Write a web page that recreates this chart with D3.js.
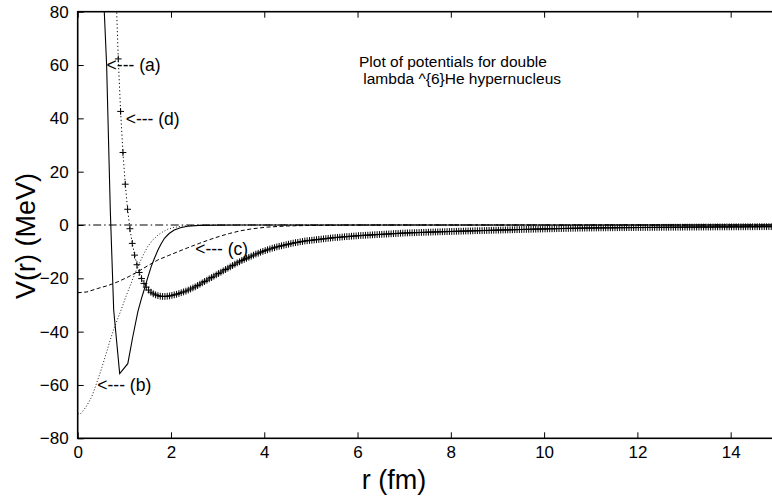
<!DOCTYPE html>
<meta charset="utf-8">
<style>
body { margin: 0; background: #fff; }
svg { display: block; font-family: "Liberation Sans", Arial, Helvetica, sans-serif; }
.tick text { font-size: 17px; fill: #000; }
.tick line { stroke: #000; stroke-width: 1; }
.note { font-size: 17.5px; }
.title { font-size: 15.5px; }
.axislabel { font-size: 27px; }
</style>
<body>
<div id="chart"></div>
<script src="https://d3js.org/d3.v7.min.js"></script>
<script>
// curve (a) solid
var rA = [0.55, 0.57, 0.62, 0.70, 0.772, 0.9, 1.074, 1.18, 1.29, 1.36, 1.43, 1.5, 1.575, 1.65, 1.72, 1.79, 1.86, 1.96, 2.07, 2.2, 2.36, 2.6, 3.0, 3.5, 15];
var vA = [90, 80, 60, 5, -32, -55.7, -52, -42, -32.5, -28, -24, -19.8, -15.6, -12.3, -9.4, -7, -5, -3.2, -1.9, -1, -0.45, -0.15, -0.04, 0, 0];
// curve (b) fine dots
var rB = [0, 0.07, 0.18, 0.3, 0.39, 0.5, 0.61, 0.7, 0.79, 0.93, 1.04, 1.145, 1.23, 1.32, 1.41, 1.5, 1.61, 1.72, 1.83, 1.93, 2.07, 2.22, 2.4, 2.7, 3.2, 15];
var vB = [-70.8, -70.7, -68.2, -64.5, -60.1, -54.5, -48.2, -43, -38.2, -31.9, -26.5, -21.9, -18, -14.4, -11.1, -8.1, -5.6, -3.8, -2.5, -1.6, -0.9, -0.45, -0.2, -0.06, 0, 0];
// curve (c) dashed
var rC = [0, 0.2, 0.43, 0.65, 0.86, 1.08, 1.29, 1.5, 1.72, 1.94, 2.15, 2.35, 2.5, 2.62, 2.86, 3.05, 3.25, 3.48, 3.75, 4.05, 4.5, 5, 6, 7, 15];
var vC = [-25.4, -25.1, -23.8, -22.7, -21.3, -19.5, -17.5, -15.3, -13.1, -11.5, -10, -8.6, -7.6, -6.8, -5.3, -4.2, -3.2, -2.2, -1.4, -0.8, -0.35, -0.15, -0.03, 0, 0];
// curve (d) points, every 0.05 fm from 0.82
var dStart = 0.82, dStep = 0.05;
var vD = [88, 62.3, 42.6, 27.2,
  15.3, 5.9, -1.4, -6.9, -11.3, -14.9, -17.8, -20.1, -21.9, -23.3, -24.4, -25.2, -25.8, -26.2, -26.5, -26.7, -26.8, -26.8, -26.7, -26.6,
  -26.4, -26.2, -26.0, -25.7, -25.4, -25.1, -24.8, -24.4, -24.0, -23.6, -23.2, -22.7, -22.2, -21.7, -21.2, -20.7, -20.2, -19.7, -19.2, -18.7,
  -18.2, -17.7, -17.2, -16.7, -16.2, -15.7, -15.2, -14.7, -14.2, -13.8, -13.3, -12.9, -12.5, -12.1, -11.7, -11.3, -10.9, -10.6, -10.2, -9.9,
  -9.6, -9.3, -9.0, -8.7, -8.5, -8.2, -8.0, -7.8, -7.6, -7.4, -7.2, -7.0, -6.8, -6.6, -6.5, -6.3, -6.2, -6.0, -5.9, -5.8,
  -5.7, -5.6, -5.5, -5.4, -5.3, -5.2, -5.1, -5.0, -4.9, -4.8, -4.7, -4.65, -4.6, -4.5, -4.4, -4.35, -4.3, -4.2, -4.15, -4.1,
  -4.0, -3.95, -3.9, -3.85, -3.8, -3.75, -3.7, -3.65, -3.6, -3.55, -3.5, -3.45, -3.4, -3.35, -3.3, -3.25, -3.2, -3.15, -3.1, -3.05,
  -3.0, -2.97, -2.94, -2.91, -2.88, -2.85, -2.82, -2.79, -2.76, -2.73, -2.7, -2.67, -2.64, -2.61, -2.58, -2.55, -2.52, -2.5, -2.47, -2.45,
  -2.42, -2.39, -2.37, -2.34, -2.32, -2.29, -2.27, -2.24, -2.22, -2.19, -2.17, -2.14, -2.12, -2.09, -2.07, -2.04, -2.02, -2.0, -1.97, -1.95,
  -1.92, -1.9, -1.87, -1.85, -1.83, -1.8, -1.78, -1.76, -1.73, -1.71, -1.69, -1.66, -1.64, -1.62, -1.6, -1.57, -1.55, -1.53, -1.51, -1.49,
  -1.47, -1.45, -1.43, -1.41, -1.39, -1.37, -1.35, -1.33, -1.31, -1.29, -1.27, -1.25, -1.24, -1.22, -1.2, -1.19, -1.17, -1.16, -1.14, -1.13,
  -1.12, -1.11, -1.1, -1.09, -1.08, -1.07, -1.06, -1.05, -1.05, -1.04, -1.03, -1.02, -1.01, -1.0, -1.0, -0.99, -0.98, -0.97, -0.97, -0.96,
  -0.95, -0.95, -0.94, -0.93, -0.92, -0.92, -0.91, -0.9, -0.9, -0.89, -0.88, -0.87, -0.87, -0.86, -0.85, -0.85, -0.84, -0.83, -0.83, -0.82,
  -0.81, -0.81, -0.8, -0.8, -0.79, -0.79, -0.78, -0.77, -0.77, -0.76, -0.76, -0.75, -0.75, -0.74, -0.73, -0.73, -0.72, -0.72, -0.71, -0.71,
  -0.7, -0.7, -0.69, -0.69, -0.68, -0.68, -0.67, -0.67, -0.66, -0.66, -0.65, -0.65, -0.64, -0.64, -0.63, -0.63, -0.62, -0.62, -0.61, -0.61];
var rD = vD.map(function(v, i) { return +(dStart + i * dStep).toFixed(2); });
// zero line
var rZ = [0, 15];
var vZ = [0, 0];

var xTicks = [0, 2, 4, 6, 8, 10, 12, 14];
var yTicks = [-80, -60, -40, -20, 0, 20, 40, 60, 80];

var notes = [
  {r: 0.62, v: 60, text: "<--- (a)"},
  {r: 1.03, v: 40, text: "<--- (d)"},
  {r: 0.42, v: -60, text: "<--- (b)"},
  {r: 2.52, v: -9, text: "<--- (c)"}
];
var titleLines = ["Plot of potentials for double", " lambda ^{6}He hypernucleus"];

var margin = {top: 11.7, left: 77.7},
    width = 699.6,
    height = 426.6;

var svg = d3.select("#chart").append("svg").attr("width", 772).attr("height", 497);
var g = svg.append("g").attr("transform", "translate(" + margin.left + "," + margin.top + ")");

var x = d3.scaleLinear().domain([0, 15]).range([0, width]);
var y = d3.scaleLinear().domain([-80, 80]).range([height, 0]);

g.append("clipPath").attr("id", "clip")
  .append("rect").attr("width", width).attr("height", height);

var plot = g.append("g").attr("clip-path", "url(#clip)");

function pairs(rs, vs) { return rs.map(function(r, i) { return [r, vs[i]]; }); }
var line = d3.line().x(function(d) { return x(d[0]); }).y(function(d) { return y(d[1]); });

plot.append("path").datum(pairs(rZ, vZ)).attr("d", line)
  .attr("fill", "none").attr("stroke", "#000").attr("stroke-width", 1).attr("stroke-dasharray", "8,3,1.5,3");
plot.append("path").datum(pairs(rA, vA)).attr("d", line)
  .attr("fill", "none").attr("stroke", "#000").attr("stroke-width", 1.1);
plot.append("path").datum(pairs(rB, vB)).attr("d", line)
  .attr("fill", "none").attr("stroke", "#000").attr("stroke-width", 0.9).attr("stroke-dasharray", "1,2");
plot.append("path").datum(pairs(rC, vC)).attr("d", line)
  .attr("fill", "none").attr("stroke", "#000").attr("stroke-width", 1).attr("stroke-dasharray", "4,2.5");
plot.append("path").datum(pairs(rD, vD)).attr("d", line)
  .attr("fill", "none").attr("stroke", "#000").attr("stroke-width", 1).attr("stroke-dasharray", "1.2,2.5");
plot.selectAll(".plus").data(pairs(rD, vD)).enter().append("path")
  .attr("class", "plus")
  .attr("transform", function(d) { return "translate(" + x(d[0]) + "," + y(d[1]) + ")"; })
  .attr("d", "M-3.4,0H3.4M0,-3.4V3.4")
  .attr("stroke", "#000").attr("stroke-width", 1).attr("fill", "none");

// axes with inward ticks
g.append("g").attr("transform", "translate(0," + height + ")")
  .call(d3.axisBottom(x).tickValues(xTicks).tickSize(-6).tickPadding(7.5).tickFormat(d3.format("d")))
  .call(function(a) { a.select(".domain").remove(); });
g.append("g")
  .call(d3.axisTop(x).tickValues(xTicks).tickSize(-6).tickFormat(""))
  .call(function(a) { a.select(".domain").remove(); });
g.append("g")
  .call(d3.axisLeft(y).tickValues(yTicks).tickSize(-6).tickPadding(9).tickFormat(d3.format("d")))
  .call(function(a) { a.select(".domain").remove(); });
g.selectAll(".tick text").attr("font-family", null).attr("font-size", null);

g.append("rect").attr("width", width).attr("height", height)
  .attr("fill", "none").attr("stroke", "#000").attr("stroke-width", 1.6);

g.selectAll(".note").data(notes).enter().append("text")
  .attr("class", "note")
  .attr("x", function(d) { return x(d.r); })
  .attr("y", function(d) { return y(d.v); })
  .attr("dy", "0.36em")
  .style("white-space", "pre")
  .text(function(d) { return d.text; });

// two-line title, lines kept close as in the plot
svg.selectAll(".title").data(titleLines).enter().append("text")
  .attr("class", "title")
  .attr("x", 359)
  .attr("y", function(d, i) { return 67 + i * 17; })
  .style("white-space", "pre")
  .text(function(d) { return d; });

svg.append("text").attr("class", "axislabel")
  .attr("text-anchor", "middle")
  .attr("x", 394).attr("y", 489)
  .text("r (fm)");
svg.append("text").attr("class", "axislabel")
  .attr("text-anchor", "middle")
  .attr("transform", "translate(35,236) rotate(-90)")
  .text("V(r) (MeV)");
</script>
</body>
